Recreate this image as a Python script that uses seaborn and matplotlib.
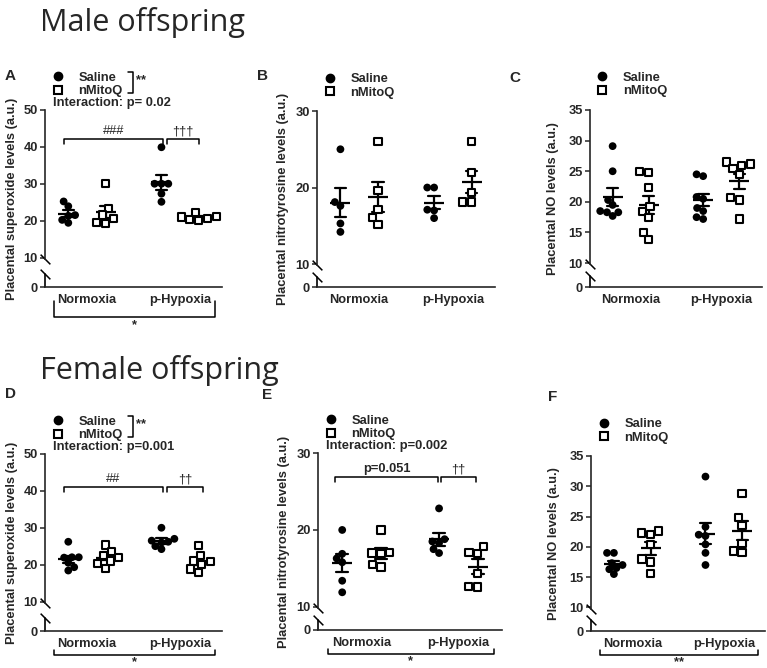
import numpy as np
import pandas as pd
import matplotlib
matplotlib.use("Agg")
import matplotlib.pyplot as plt
import seaborn as sns
from matplotlib.lines import Line2D

conditions = ["Normoxia", "p-Hypoxia"]
treatments = ["Saline", "nMitoQ"]

# A - male, superoxide
a_sal_norm = [25.2, 23.9, 21.5, 21.3, 20.2, 19.4]
a_mq_norm = [30.0, 23.3, 21.5, 20.5, 19.5, 19.3]
a_sal_hyp = [39.9, 30.0, 30.0, 30.0, 27.3, 25.1]
a_mq_hyp = [22.2, 21.2, 21.0, 20.5, 20.2, 20.0]

# B - male, nitrotyrosine
b_sal_norm = [25.0, 18.1, 17.6, 15.3, 14.2]
b_mq_norm = [26.0, 19.6, 17.1, 16.1, 15.2]
b_sal_hyp = [20.0, 20.0, 17.1, 17.0, 16.0]
b_mq_hyp = [26.0, 22.0, 19.4, 18.1, 18.1]

# C - male, NO
c_sal_norm = [29.1, 25.0, 20.3, 19.5, 18.5, 18.3, 18.3, 17.7]
c_mq_norm = [24.9, 24.8, 22.3, 19.2, 18.4, 17.4, 15.0, 13.9]
c_sal_hyp = [24.5, 24.2, 20.8, 20.5, 19.0, 18.5, 17.5, 17.2]
c_mq_hyp = [26.5, 26.2, 26.0, 25.5, 24.5, 20.7, 20.3, 17.2]

# D - female, superoxide
d_sal_norm = [26.2, 22.0, 22.0, 21.9, 20.5, 19.3, 18.4]
d_mq_norm = [25.3, 23.5, 22.5, 22.0, 21.0, 20.2, 19.0]
d_sal_hyp = [30.0, 27.0, 26.5, 26.2, 26.0, 25.0, 24.2]
d_mq_hyp = [25.2, 22.5, 21.0, 20.8, 20.0, 18.8, 17.8]

# E - female, nitrotyrosine
e_sal_norm = [20.0, 16.9, 16.3, 15.8, 13.4, 11.9]
e_mq_norm = [20.0, 17.1, 17.0, 16.9, 15.5, 15.2]
e_sal_hyp = [22.8, 18.8, 18.5, 18.3, 17.5, 17.0]
e_mq_hyp = [17.8, 17.1, 16.9, 14.3, 12.7, 12.6]

# F - female, NO
f_sal_norm = [19.0, 19.0, 17.3, 17.0, 16.5, 16.3, 15.5]
f_mq_norm = [22.6, 22.3, 22.0, 20.4, 18.0, 17.5, 15.6]
f_sal_hyp = [31.6, 23.3, 22.0, 21.8, 20.4, 19.0, 17.0]
f_mq_hyp = [28.8, 24.8, 23.5, 20.5, 19.3, 19.0]

sox_label = "Placental superoxide levels (a.u.)"
nt_label = "Placental nitrotyrosine levels (a.u.)"
no_label = "Placental NO levels (a.u.)"
sox_ticks = [0, 10, 20, 30, 40, 50]
nt_ticks = [0, 10, 20, 30]
no_ticks = [0, 10, 15, 20, 25, 30, 35]


def make_df(sal_norm, mq_norm, sal_hyp, mq_hyp):
    rows = []
    groups = [("Normoxia", "Saline", sal_norm), ("Normoxia", "nMitoQ", mq_norm),
              ("p-Hypoxia", "Saline", sal_hyp), ("p-Hypoxia", "nMitoQ", mq_hyp)]
    for cond, treat, vals in groups:
        for v in vals:
            rows.append({"cond": cond, "treat": treat, "val": v})
    return pd.DataFrame(rows)


sns.set_style("ticks")
plt.rcParams["font.family"] = ["Liberation Sans", "DejaVu Sans"]
plt.rcParams["font.weight"] = "bold"
plt.rcParams["axes.labelweight"] = "bold"
plt.rcParams["font.size"] = 9.3

W, H = 767, 668
fig = plt.figure(figsize=(W / 100, H / 100), dpi=100)

# swarm is laid out with smaller markers (points overlap a bit, like Prism),
# markers are enlarged after the layout is done
swarm_colls = []


def add_box(left, top, right, bottom):
    return fig.add_axes([left / W, 1 - bottom / H, (right - left) / W, (bottom - top) / H])


def draw_panel(ax, df, yticks, r, ylabel, labelpad):
    # broken y axis: 0-10 squeezed by r
    fwd = lambda y: np.where(y < 10, y * r, 10 * r + (y - 10))
    inv = lambda z: np.where(z < 10 * r, z / r, z - 10 * r + 10)
    ax.set_yscale("function", functions=(fwd, inv))
    ax.set_ylim(0, yticks[-1])
    ax.set_xlim(-0.45, 1.45)

    n0 = len(ax.collections)
    sns.swarmplot(data=df[df.treat == "Saline"], x="cond", y="val", hue="treat",
                  order=conditions, hue_order=treatments, dodge=True,
                  palette={"Saline": "black", "nMitoQ": "black"}, size=4.7,
                  linewidth=0, legend=False, ax=ax)
    for c in ax.collections[n0:]:
        swarm_colls.append((c, 5.6))
    n0 = len(ax.collections)
    sns.swarmplot(data=df[df.treat == "nMitoQ"], x="cond", y="val", hue="treat",
                  order=conditions, hue_order=treatments, dodge=True,
                  palette={"Saline": "white", "nMitoQ": "white"}, marker="s", size=4.7,
                  edgecolor="black", linewidth=1.5, legend=False, ax=ax)
    for c in ax.collections[n0:]:
        swarm_colls.append((c, 5.2))
    # mean +/- SEM
    sns.pointplot(data=df, x="cond", y="val", hue="treat", order=conditions,
                  hue_order=treatments, dodge=0.4, errorbar="se", capsize=0.12,
                  linestyle="none", marker="_", markersize=15, markeredgewidth=1.6,
                  palette=["black", "black"], err_kws={"linewidth": 1.6},
                  legend=False, ax=ax)

    ax.set_ylim(0, yticks[-1])
    ax.set_xlim(-0.45, 1.45)
    ax.set_yticks(yticks)
    ax.set_xlabel("")
    ax.set_ylabel(ylabel, labelpad=labelpad)
    sns.despine(ax=ax)
    ax.spines["left"].set_linewidth(1.2)
    ax.spines["bottom"].set_linewidth(1.2)
    ax.spines["left"].set_bounds(9.5, yticks[-1])
    ax.tick_params(axis="y", length=3.6, width=1.1, pad=1.5)
    ax.tick_params(axis="x", length=0, pad=5)
    yt = ax.get_yaxis_transform()
    ax.plot([0, 0], [0, 4.5], transform=yt, color="black", lw=1.2, clip_on=False)
    ax.plot([0, 0], [4.5, 9.5], transform=yt, ls="none", marker=[(-1, 1), (1, -1)],
            ms=7, mew=1.1, color="black", clip_on=False)

    handles = [Line2D([], [], ls="none", marker="o", ms=6, mfc="black", mec="black"),
               Line2D([], [], ls="none", marker="s", ms=5.6, mfc="white", mec="black", mew=1.5)]
    ax.legend(handles, treatments, loc="upper left", bbox_to_anchor=(0.035, 1.215),
              frameon=False, borderpad=0, borderaxespad=0, handlelength=1.0,
              handletextpad=1.1, labelspacing=0.1)


def sig_bracket(ax, x0, x1, y, tip, text, weight="normal"):
    ax.plot([x0, x0, x1, x1], [y - tip, y, y, y - tip], color="black", lw=1.1, clip_on=False)
    ax.text((x0 + x1) / 2, y + tip * 0.3, text, ha="center", va="bottom", fontsize=9.3,
            fontweight=weight)


def legend_bracket(ax, text):
    ax.plot([0.47, 0.497, 0.497, 0.47], [1.215, 1.215, 1.096, 1.096], transform=ax.transAxes,
            color="black", lw=1.1, clip_on=False)
    ax.text(0.515, 1.17, text, transform=ax.transAxes, ha="left", va="center", fontsize=9.3)


def main_effect(ax, text, line_px, tip_px, star_px):
    # offsets in pixels below the x axis
    hgt = ax.get_position().height * H
    bt = ax.get_xaxis_transform()
    ax.plot([-0.35, -0.35, 1.37, 1.37],
            [-tip_px / hgt, -line_px / hgt, -line_px / hgt, -tip_px / hgt],
            transform=bt, color="black", lw=1.1, clip_on=False)
    ax.text(0.51, -star_px / hgt, text, transform=bt, ha="center", va="top", fontsize=9.3)


ax_a = add_box(45, 110, 222, 287)
ax_b = add_box(317, 111, 495, 287)
ax_c = add_box(590, 110, 762, 287)
ax_d = add_box(45, 454, 222, 631)
ax_e = add_box(318, 453, 502, 630)
ax_f = add_box(591, 456, 765, 631)

draw_panel(ax_a, make_df(a_sal_norm, a_mq_norm, a_sal_hyp, a_mq_hyp), sox_ticks, 0.8, sox_label, 4)
draw_panel(ax_b, make_df(b_sal_norm, b_mq_norm, b_sal_hyp, b_mq_hyp), nt_ticks, 0.3, nt_label, 5)
draw_panel(ax_c, make_df(c_sal_norm, c_mq_norm, c_sal_hyp, c_mq_hyp), no_ticks, 0.39, no_label, 7)
draw_panel(ax_d, make_df(d_sal_norm, d_mq_norm, d_sal_hyp, d_mq_hyp), sox_ticks, 0.8, sox_label, 4)
draw_panel(ax_e, make_df(e_sal_norm, e_mq_norm, e_sal_hyp, e_mq_hyp), nt_ticks, 0.3, nt_label, 5)
draw_panel(ax_f, make_df(f_sal_norm, f_mq_norm, f_sal_hyp, f_mq_hyp), no_ticks, 0.39, no_label, 7)

# significance annotations
legend_bracket(ax_a, "**")
legend_bracket(ax_d, "**")
ax_a.text(0.045, 1.04, "Interaction: p= 0.02", transform=ax_a.transAxes, va="center")
ax_d.text(0.045, 1.04, "Interaction: p=0.001", transform=ax_d.transAxes, va="center")
ax_e.text(0.045, 1.04, "Interaction: p=0.002", transform=ax_e.transAxes, va="center")
sig_bracket(ax_a, -0.25, 0.82, 42.2, 1.4, "###")
sig_bracket(ax_a, 0.86, 1.2, 42.2, 1.4, "†††")
sig_bracket(ax_d, -0.25, 0.82, 41.1, 1.4, "##")
sig_bracket(ax_d, 0.86, 1.25, 41.1, 1.4, "††")
sig_bracket(ax_e, -0.27, 0.79, 26.9, 0.7, "p=0.051", "bold")
sig_bracket(ax_e, 0.82, 1.18, 26.9, 0.7, "††")
main_effect(ax_a, "*", 30, 14, 32)
main_effect(ax_d, "*", 24, 19, 25)
main_effect(ax_e, "*", 24, 19, 25)
main_effect(ax_f, "**", 24, 19, 25)

# panel letters and titles
for lbl, x, y in [("A", 10, 76), ("B", 263, 76), ("C", 515, 78),
                  ("D", 11, 394), ("E", 267, 395), ("F", 553, 397)]:
    fig.text(x / W, 1 - y / H, lbl, fontsize=11, fontweight="bold", ha="center", va="center")
fig.text(40 / W, 1 - 22 / H, "Male offspring", fontsize=22, fontweight="normal",
         family=["Open Sans", "DejaVu Sans"], va="center")
fig.text(40 / W, 1 - 370 / H, "Female offspring", fontsize=22, fontweight="normal",
         family=["Open Sans", "DejaVu Sans"], va="center")

# run the swarm layout once, then freeze it and enlarge the markers
fig.canvas.draw()
for coll, size in swarm_colls:
    if "draw" in coll.__dict__:
        del coll.draw
    coll.set_sizes([size ** 2])

fig.savefig("out.png", dpi=100)
